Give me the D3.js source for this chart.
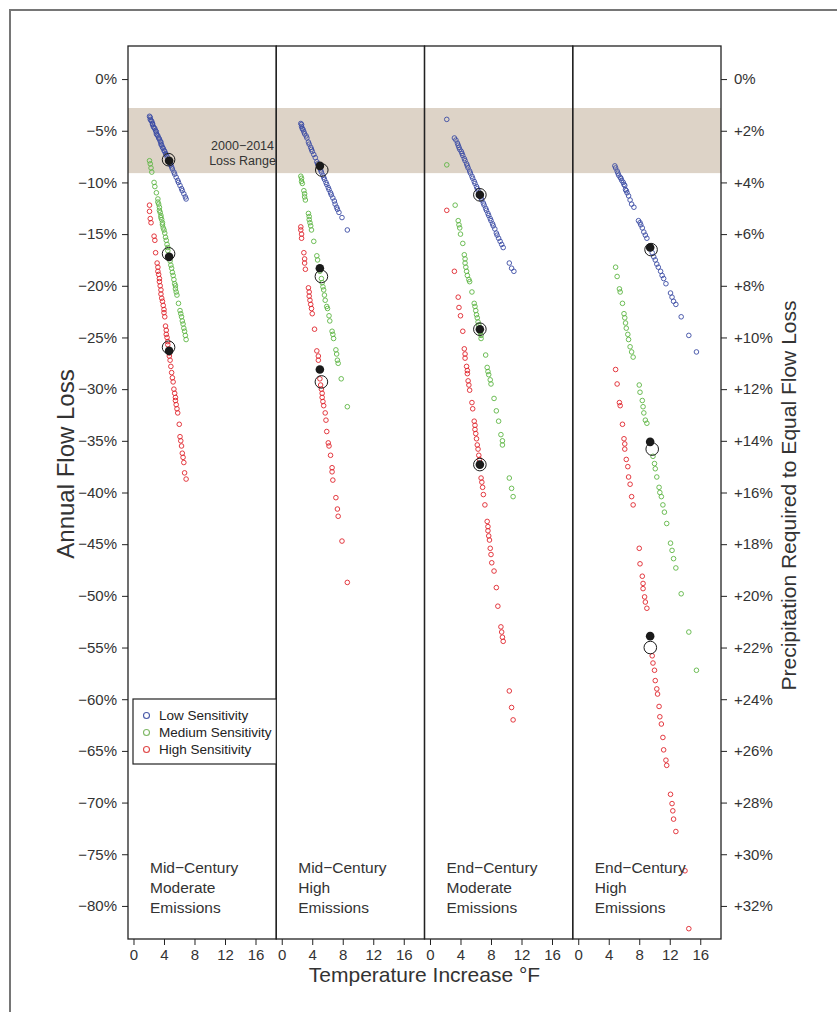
<!DOCTYPE html>
<html lang="en">
<head>
<meta charset="utf-8" />
<title>Annual Flow Loss vs Temperature Increase</title>
<style>
  body { margin: 0; background: #fff; }
  svg { display: block; font-family: "Liberation Sans", Arial, sans-serif; }
  .tick-label { font-size: 15px; fill: #333; }
  .panel-label { font-size: 15.5px; fill: #333; }
</style>
</head>
<body>
<svg id="chart" width="837" height="1012"></svg>
<script src="https://d3js.org/d3.v7.min.js"></script>
<script>
// ---- data (temperature °F, annual flow loss %) ----
const panelTitles = [
  ["Mid−Century", "Moderate", "Emissions"],
  ["Mid−Century", "High", "Emissions"],
  ["End−Century", "Moderate", "Emissions"],
  ["End−Century", "High", "Emissions"]
];
const seriesNames = ["Low Sensitivity", "Medium Sensitivity", "High Sensitivity"];
const seriesColors = ["#3b4ca4", "#5db544", "#e0252c"];
const legendColors = ["#4a5aa8", "#7fb866", "#e04848"];
const yTickValues = [0, -5, -10, -15, -20, -25, -30, -35, -40, -45, -50, -55, -60, -65, -70, -75, -80];
const rightTickLabels = ["0%", "+2%", "+4%", "+6%", "+8%", "+10%", "+12%", "+14%", "+16%", "+18%", "+20%", "+22%", "+24%", "+26%", "+28%", "+30%", "+32%"];
const xTickValues = [0, 4, 8, 12, 16];
const lossRange = [-2.8, -9.1];

const p1Low = [[2.1,-3.6],[2.2,-3.7],[2.2,-3.9],[2.3,-4.0],[2.4,-4.1],[2.5,-4.3],[2.5,-4.4],[2.6,-4.6],[2.7,-4.7],[2.8,-4.8],[2.9,-5.0],[3.0,-5.1],[3.0,-5.3],[3.1,-5.4],[3.2,-5.5],[3.3,-5.7],[3.4,-5.8],[3.5,-6.0],[3.6,-6.1],[3.6,-6.3],[3.7,-6.4],[3.8,-6.6],[3.9,-6.7],[4.0,-6.9],[4.1,-7.0],[4.2,-7.2],[4.3,-7.3],[4.4,-7.5],[4.6,-7.8],[4.7,-8.0],[4.8,-8.2],[4.9,-8.3],[5.0,-8.5],[5.1,-8.7],[5.3,-9.0],[5.4,-9.2],[5.6,-9.5],[5.8,-9.8],[5.9,-10.0],[6.1,-10.3],[6.3,-10.6],[6.4,-10.8],[6.6,-11.1],[6.8,-11.4],[6.9,-11.6]];
const p1Med = [[2.1,-7.9],[2.2,-8.2],[2.3,-8.6],[2.4,-9.0],[2.7,-10.0],[2.8,-10.4],[3.0,-11.0],[3.2,-11.6],[3.2,-11.9],[3.3,-12.1],[3.4,-12.4],[3.4,-12.7],[3.5,-12.9],[3.6,-13.2],[3.6,-13.4],[3.7,-13.6],[3.8,-13.9],[3.8,-14.1],[3.9,-14.4],[4.0,-14.6],[4.1,-14.9],[4.2,-15.3],[4.3,-15.6],[4.4,-16.0],[4.5,-16.3],[4.5,-16.6],[4.7,-17.3],[4.8,-17.6],[4.9,-18.0],[5.0,-18.3],[5.1,-18.7],[5.2,-19.0],[5.3,-19.4],[5.4,-19.8],[5.5,-20.0],[5.5,-20.3],[5.6,-20.6],[5.7,-20.9],[5.9,-21.7],[6.1,-22.4],[6.2,-22.7],[6.3,-23.0],[6.4,-23.4],[6.5,-23.7],[6.6,-24.1],[6.7,-24.4],[6.8,-24.8],[6.9,-25.2]];
const p1High = [[2.1,-12.2],[2.1,-12.8],[2.2,-13.5],[2.3,-13.9],[2.7,-15.2],[2.8,-15.6],[2.9,-16.8],[3.1,-17.8],[3.2,-18.2],[3.2,-18.6],[3.3,-18.9],[3.4,-19.3],[3.4,-19.6],[3.5,-20.0],[3.6,-20.4],[3.6,-20.8],[3.7,-21.2],[3.8,-21.5],[3.9,-21.9],[4.0,-22.3],[4.0,-22.6],[4.1,-23.0],[4.2,-23.9],[4.3,-24.3],[4.3,-24.7],[4.4,-25.0],[4.5,-25.4],[4.5,-25.7],[4.7,-26.5],[4.7,-26.8],[4.8,-27.2],[4.9,-27.8],[5.0,-28.4],[5.1,-28.9],[5.2,-29.3],[5.3,-30.0],[5.4,-30.4],[5.5,-30.8],[5.5,-31.1],[5.6,-31.5],[5.7,-31.9],[5.8,-32.3],[6.0,-33.4],[6.1,-34.6],[6.2,-35.0],[6.3,-35.5],[6.4,-36.2],[6.5,-36.6],[6.6,-37.1],[6.7,-38.1],[6.9,-38.7]];

const p2Low = [[2.5,-4.3],[2.6,-4.4],[2.6,-4.6],[2.7,-4.8],[2.8,-4.9],[2.9,-5.1],[3.0,-5.3],[3.2,-5.5],[3.3,-5.7],[3.5,-6.1],[3.6,-6.3],[3.8,-6.6],[3.9,-6.8],[4.0,-7.0],[4.2,-7.3],[4.4,-7.6],[4.6,-8.0],[4.7,-8.2],[5.0,-8.6],[5.1,-8.8],[5.2,-9.0],[5.4,-9.3],[5.5,-9.5],[5.6,-9.7],[5.8,-10.0],[5.9,-10.2],[6.1,-10.5],[6.2,-10.7],[6.4,-11.0],[6.5,-11.2],[6.7,-11.5],[6.9,-11.8],[7.0,-12.1],[7.2,-12.4],[7.3,-12.6],[7.5,-12.9],[7.9,-13.4],[8.6,-14.6]];
const p2Med = [[2.5,-9.4],[2.6,-9.6],[2.6,-9.9],[2.7,-10.1],[2.9,-10.8],[3.0,-11.1],[3.0,-11.4],[3.1,-11.7],[3.5,-13.0],[3.6,-13.3],[3.6,-13.6],[3.7,-13.9],[3.8,-14.2],[3.9,-14.6],[4.2,-15.7],[4.6,-17.1],[4.7,-17.5],[5.0,-18.6],[5.2,-19.3],[5.3,-19.7],[5.4,-20.1],[5.5,-20.4],[5.6,-20.9],[5.7,-21.4],[5.9,-22.0],[6.0,-22.2],[6.2,-22.9],[6.3,-23.4],[6.6,-24.4],[6.7,-24.7],[6.8,-25.1],[7.1,-26.2],[7.2,-26.6],[7.3,-27.2],[7.4,-27.5],[7.8,-29.0],[8.6,-31.7]];
const p2High = [[2.5,-14.3],[2.5,-14.6],[2.6,-15.0],[2.6,-15.4],[2.9,-16.8],[3.0,-17.4],[3.0,-17.8],[3.1,-18.4],[3.5,-20.2],[3.6,-20.6],[3.6,-21.0],[3.7,-21.4],[3.8,-21.8],[3.9,-22.2],[4.0,-22.7],[4.3,-24.2],[4.6,-26.3],[4.8,-26.8],[4.8,-27.2],[5.0,-29.0],[5.1,-29.6],[5.2,-30.0],[5.3,-30.4],[5.3,-30.8],[5.4,-31.2],[5.5,-31.6],[5.7,-32.3],[5.8,-33.0],[5.9,-34.1],[6.1,-35.2],[6.2,-35.5],[6.4,-36.4],[6.6,-37.6],[6.6,-38.0],[6.7,-38.8],[7.1,-40.5],[7.3,-41.6],[7.4,-42.3],[7.9,-44.7],[8.6,-48.7]];

const p3Low = [[2.2,-3.9],[3.2,-5.7],[3.4,-5.9],[3.6,-6.2],[3.7,-6.4],[3.8,-6.6],[3.9,-6.8],[4.1,-7.0],[4.2,-7.2],[4.3,-7.4],[4.5,-7.7],[4.6,-7.9],[4.8,-8.2],[4.9,-8.4],[5.0,-8.6],[5.2,-8.9],[5.3,-9.1],[5.5,-9.4],[5.6,-9.6],[5.8,-9.9],[5.9,-10.1],[6.1,-10.4],[6.2,-10.6],[6.3,-10.8],[6.7,-11.5],[6.8,-11.7],[7.0,-12.0],[7.1,-12.2],[7.3,-12.5],[7.4,-12.7],[7.6,-13.0],[7.7,-13.2],[7.9,-13.5],[8.0,-13.7],[8.2,-14.0],[8.3,-14.2],[8.5,-14.5],[8.7,-14.9],[8.8,-15.1],[9.0,-15.4],[9.2,-15.7],[9.4,-16.0],[9.6,-16.3],[10.4,-17.8],[10.7,-18.3],[11.0,-18.6]];
const p3Med = [[2.2,-8.3],[3.3,-12.2],[3.7,-13.7],[3.8,-14.1],[3.9,-14.4],[4.0,-15.0],[4.3,-15.9],[4.5,-17.0],[4.6,-17.4],[4.6,-17.8],[4.7,-18.2],[4.8,-18.6],[4.9,-19.0],[5.1,-19.4],[5.2,-19.6],[5.5,-20.6],[5.8,-21.7],[5.9,-22.0],[6.0,-22.4],[6.1,-22.8],[6.2,-23.1],[6.3,-23.5],[6.4,-23.8],[6.6,-24.5],[6.7,-24.8],[6.7,-25.1],[7.3,-26.7],[7.5,-27.9],[7.6,-28.3],[7.7,-28.6],[7.9,-29.1],[8.0,-29.5],[8.4,-30.9],[8.7,-32.1],[9.0,-33.1],[9.3,-34.4],[9.5,-35.0],[9.5,-35.4],[10.4,-38.6],[10.7,-39.6],[10.9,-40.4]];
const p3High = [[2.2,-12.7],[3.2,-18.6],[3.7,-21.1],[3.8,-22.1],[4.0,-22.9],[4.3,-24.4],[4.5,-26.1],[4.6,-26.6],[4.6,-27.0],[4.8,-27.8],[4.9,-28.2],[4.9,-28.5],[5.0,-29.2],[5.1,-29.6],[5.2,-30.1],[5.5,-31.3],[5.6,-31.9],[5.8,-33.1],[5.9,-33.5],[5.9,-33.9],[6.0,-34.3],[6.1,-34.8],[6.2,-35.4],[6.3,-35.8],[6.4,-36.4],[6.5,-36.8],[6.7,-38.6],[6.8,-39.0],[6.9,-39.5],[7.0,-40.2],[7.2,-41.2],[7.5,-42.8],[7.6,-43.3],[7.6,-43.7],[7.7,-44.2],[7.8,-44.6],[7.9,-45.4],[8.0,-46.0],[8.1,-46.8],[8.4,-47.6],[8.7,-49.2],[8.9,-51.0],[9.3,-53.0],[9.4,-53.5],[9.5,-54.0],[9.6,-54.4],[10.4,-59.2],[10.7,-60.8],[10.9,-62.0]];

const p4Low = [[4.8,-8.4],[4.9,-8.6],[5.1,-8.9],[5.2,-9.1],[5.3,-9.3],[5.5,-9.5],[5.6,-9.6],[5.7,-9.8],[5.9,-10.0],[6.0,-10.2],[6.1,-10.3],[6.2,-10.7],[6.3,-10.8],[6.4,-11.0],[6.6,-11.3],[6.8,-11.7],[7.0,-12.1],[7.3,-12.4],[7.9,-13.7],[8.1,-13.9],[8.2,-14.1],[8.4,-14.4],[8.6,-14.8],[8.8,-15.1],[9.0,-15.4],[9.7,-16.8],[9.9,-17.2],[10.1,-17.5],[10.3,-17.9],[10.5,-18.2],[10.8,-18.6],[11.0,-19.0],[11.2,-19.3],[11.5,-19.8],[12.1,-20.7],[12.3,-21.1],[12.5,-21.5],[12.8,-21.8],[13.5,-23.0],[14.5,-24.8],[15.5,-26.4]];
const p4Med = [[4.9,-18.2],[5.1,-19.1],[5.4,-20.3],[5.5,-20.6],[5.8,-21.7],[6.0,-22.7],[6.1,-23.1],[6.2,-23.6],[6.3,-24.1],[6.5,-24.7],[6.6,-25.2],[6.8,-25.9],[7.0,-26.4],[7.2,-26.9],[8.0,-29.6],[8.1,-30.3],[8.4,-31.1],[8.5,-31.7],[8.6,-32.3],[8.8,-33.0],[9.0,-33.3],[9.8,-36.5],[10.0,-37.2],[10.1,-37.7],[10.3,-38.5],[10.6,-39.5],[10.7,-40.0],[10.9,-40.4],[11.1,-41.2],[11.3,-41.9],[11.6,-43.0],[12.1,-44.9],[12.3,-45.6],[12.5,-46.4],[12.8,-47.3],[13.5,-49.8],[14.5,-53.5],[15.5,-57.2]];
const p4High = [[4.9,-28.1],[5.1,-29.5],[5.4,-31.3],[5.5,-31.6],[5.8,-33.4],[6.0,-34.8],[6.1,-35.3],[6.1,-35.8],[6.3,-36.8],[6.5,-37.5],[6.6,-38.5],[6.8,-39.2],[7.0,-40.4],[7.2,-41.2],[8.0,-45.4],[8.1,-46.9],[8.4,-48.1],[8.5,-48.8],[8.5,-49.3],[8.7,-50.1],[8.8,-50.6],[9.0,-51.2],[9.7,-55.8],[9.8,-56.5],[10.0,-57.2],[10.1,-58.2],[10.3,-59.0],[10.4,-59.5],[10.6,-60.7],[10.7,-61.7],[10.9,-62.4],[11.1,-63.7],[11.2,-64.9],[11.5,-65.9],[11.6,-66.4],[12.1,-69.2],[12.3,-70.1],[12.4,-70.8],[12.5,-71.6],[12.8,-72.8],[14.0,-76.6],[14.5,-82.2]];

// central estimates: [panel, temperature, loss]
const centralFilled = [[0,4.67,-7.9],[0,4.67,-17.2],[0,4.67,-26.3],[1,5.0,-8.4],[1,5.0,-18.3],[1,5.0,-28.1],[2,6.54,-11.2],[2,6.54,-24.2],[2,6.54,-37.3],[3,9.43,-16.3],[3,9.43,-35.1],[3,9.43,-53.9]];
const centralRing = [[0,4.6,-7.8],[0,4.6,-16.9],[0,4.6,-25.95],[1,5.25,-8.8],[1,5.2,-19.1],[1,5.2,-29.3],[2,6.54,-11.2],[2,6.54,-24.2],[2,6.54,-37.3],[3,9.55,-16.5],[3,9.7,-35.8],[3,9.45,-55.0]];

const panelData = [[p1Low, p1Med, p1High], [p2Low, p2Med, p2High], [p3Low, p3Med, p3High], [p4Low, p4Med, p4High]];

// ---- layout ----
const svg = d3.select("#chart");
const plotLeft = 128, plotRight = 721, plotTop = 46, plotBottom = 939;
const panelW = (plotRight - plotLeft) / 4;

const y = d3.scaleLinear().domain([-83.2, 3.2]).range([plotBottom, plotTop]);
const xs = panelTitles.map((_, i) =>
  d3.scaleLinear().domain([-0.72, 18.72]).range([plotLeft + i * panelW, plotLeft + (i + 1) * panelW]));

// outer frame
svg.append("rect")
  .attr("x", 10).attr("y", 10).attr("width", 840).attr("height", 1020)
  .attr("fill", "none").attr("stroke", "#767676").attr("stroke-width", 2);

// 2000-2014 loss range band
svg.append("rect")
  .attr("x", plotLeft).attr("width", plotRight - plotLeft)
  .attr("y", y(lossRange[0])).attr("height", y(lossRange[1]) - y(lossRange[0]))
  .attr("fill", "#ddd3c7");

svg.append("text")
  .attr("x", xs[0](14.3)).attr("y", y(-6.9))
  .attr("text-anchor", "middle").attr("font-size", 12.5).attr("fill", "#333")
  .selectAll("tspan").data(["2000−2014", "Loss Range"]).join("tspan")
  .attr("x", xs[0](14.3)).attr("dy", (d, i) => i ? 15 : 0).text(d => d);

// scatter points
panelData.forEach((series, pi) => {
  const g = svg.append("g");
  series.forEach((pts, si) => {
    g.selectAll(null).data(pts).join("circle")
      .attr("cx", d => xs[pi](d[0])).attr("cy", d => y(d[1]))
      .attr("r", 2.3).attr("fill", "none")
      .attr("stroke", seriesColors[si]).attr("stroke-width", 0.9);
  });
});

svg.append("g").selectAll("circle").data(centralFilled).join("circle")
  .attr("cx", d => xs[d[0]](d[1])).attr("cy", d => y(d[2]))
  .attr("r", 4.3).attr("fill", "#1a1a1a");

svg.append("g").selectAll("circle").data(centralRing).join("circle")
  .attr("cx", d => xs[d[0]](d[1])).attr("cy", d => y(d[2]))
  .attr("r", 6.3).attr("fill", "none").attr("stroke", "#1a1a1a").attr("stroke-width", 1);

// panel boxes, x axes and titles
panelTitles.forEach((title, i) => {
  const x = xs[i];
  const [x0, x1] = x.range();
  svg.append("rect")
    .attr("x", x0).attr("y", plotTop).attr("width", x1 - x0).attr("height", plotBottom - plotTop)
    .attr("fill", "none").attr("stroke", "#222").attr("stroke-width", 1.3);

  const ax = svg.append("g").attr("transform", `translate(0,${plotBottom})`)
    .call(d3.axisBottom(x).tickValues(xTickValues).tickSize(6).tickPadding(4).tickSizeOuter(0));
  ax.select(".domain").remove();
  ax.selectAll("line").attr("stroke", "#222");
  ax.selectAll("text").attr("class", "tick-label").attr("font-family", null).attr("font-size", null);

  svg.append("text").attr("class", "panel-label")
    .selectAll("tspan").data(title).join("tspan")
    .attr("x", x0 + 22).attr("y", (d, j) => 873 + j * 20).text(d => d);
});

// left axis
const yl = svg.append("g").attr("transform", `translate(${plotLeft},0)`)
  .call(d3.axisLeft(y).tickValues(yTickValues).tickSize(6).tickPadding(5)
    .tickFormat(d => (d < 0 ? "−" + (-d) : d) + "%"));
yl.select(".domain").remove();
yl.selectAll("line").attr("stroke", "#222");
yl.selectAll("text").attr("class", "tick-label").attr("font-family", null).attr("font-size", null);

// right axis (precipitation equivalent)
const yr = svg.append("g").attr("transform", `translate(${plotRight},0)`)
  .call(d3.axisRight(y).tickValues(yTickValues).tickSize(6).tickPadding(7)
    .tickFormat((d, i) => rightTickLabels[i]));
yr.select(".domain").remove();
yr.selectAll("line").attr("stroke", "#222");
yr.selectAll("text").attr("class", "tick-label").attr("font-family", null).attr("font-size", null);

// axis titles
svg.append("text")
  .attr("x", (plotLeft + plotRight) / 2).attr("y", 982)
  .attr("text-anchor", "middle").attr("font-size", 21).attr("fill", "#333")
  .text("Temperature Increase °F");

svg.append("text")
  .attr("transform", `translate(74,464) rotate(-90)`)
  .attr("text-anchor", "middle").attr("font-size", 24).attr("fill", "#333")
  .text("Annual Flow Loss");

svg.append("text")
  .attr("transform", `translate(796,${(plotTop + plotBottom) / 2 + 3}) rotate(-90)`)
  .attr("text-anchor", "middle").attr("font-size", 21).attr("fill", "#333")
  .attr("textLength", 390).attr("lengthAdjust", "spacingAndGlyphs")
  .text("Precipitation Required to Equal Flow Loss");

// legend
const lg = svg.append("g").attr("transform", "translate(133,699)");
lg.append("rect").attr("width", xs[0].range()[1] - 133).attr("height", 65)
  .attr("fill", "#fff").attr("stroke", "#222").attr("stroke-width", 1.2);
seriesNames.forEach((name, i) => {
  lg.append("circle").attr("cx", 13.5).attr("cy", 16.5 + i * 17).attr("r", 3)
    .attr("fill", "none").attr("stroke", legendColors[i]).attr("stroke-width", 1.1);
  lg.append("text").attr("x", 26).attr("y", 21 + i * 17)
    .attr("font-size", 13.5).attr("fill", "#222").text(name);
});
</script>
</body>
</html>
